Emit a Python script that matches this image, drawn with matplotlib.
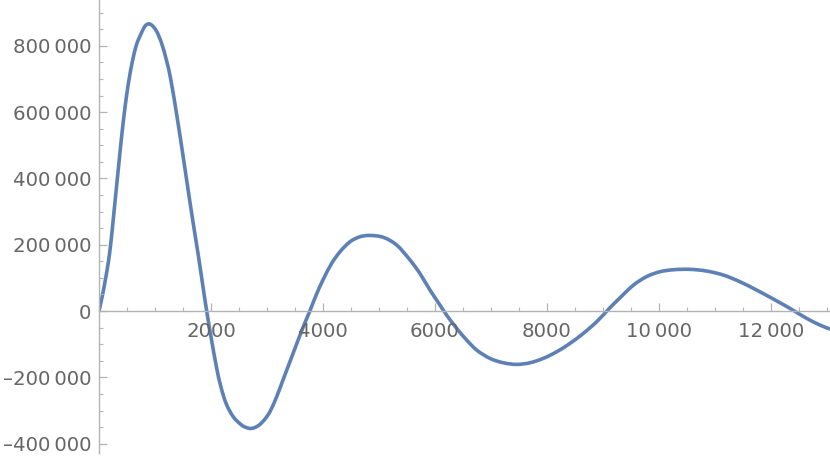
import matplotlib
matplotlib.use("Agg")
import matplotlib.pyplot as plt
from matplotlib.path import Path
from matplotlib.patches import PathPatch
from matplotlib.ticker import FixedLocator, MultipleLocator

# ---- data ----
x_values = [0, 62, 118, 168, 207, 239, 268, 298, 328, 358, 388, 420, 455, 494, 540,
            595, 668, 755, 820, 885, 950, 1030, 1119, 1208, 1280, 1399, 1494, 1583,
            1673, 1768, 1857, 1923, 2000, 2101, 2173, 2268, 2399, 2548, 2620, 2700,
            2780, 2863, 2960, 3054, 3173, 3292, 3411, 3530, 3649, 3765, 3887, 4006,
            4155, 4304, 4482, 4661, 4839, 5077, 5316, 5554, 5732, 5911, 6089, 6208,
            6387, 6566, 6744, 6982, 7220, 7458, 7696, 7934, 8173, 8411, 8649, 8887,
            9125, 9304, 9542, 9780, 10018, 10256, 10554, 10851, 11149, 11446, 11744,
            12042, 12339, 12637, 12875, 13054]
y_values = [0, 48000, 98600, 148700, 199100, 249500, 299600, 349900, 400300, 450400,
            500800, 551100, 601200, 651600, 701900, 752000, 802400, 837700, 858900,
            866000, 861000, 843000, 807000, 754000, 700000, 580000, 475700, 375000,
            274500, 174000, 73300, 0, -77500, -172000, -226000, -278000, -319000,
            -344000, -350500, -354000, -351400, -343200, -326500, -303000, -258000,
            -205000, -152000, -99000, -47000, 0, 52000, 96000, 143900, 178900, 209000,
            224100, 228000, 222300, 199100, 154000, 113000, 63300, 18100, -12100,
            -52200, -87500, -117600, -142700, -155900, -160800, -155900, -142700,
            -122800, -97400, -67300, -32200, 10000, 40000, 78000, 104000, 118600,
            124600, 125800, 120700, 108600, 88400, 63300, 36200, 8100, -22000,
            -42200, -54300]

x_ticks = [2000, 4000, 6000, 8000, 10000, 12000]
x_tick_labels = ["2000", "4000", "6000", "8000", "10\u2009000", "12\u2009000"]
y_ticks = [-400000, -200000, 0, 200000, 400000, 600000, 800000]
y_tick_labels = ["\u2013400\u2009000", "\u2013200\u2009000", "0", "200\u2009000",
                 "400\u2009000", "600\u2009000", "800\u2009000"]

# ---- figure ----
W, H = 830, 457
fig = plt.figure(figsize=(W / 100, H / 100), dpi=100)
ax = fig.add_axes([99 / W, 4 / H, 731 / W, 453 / H])

line_color = "#5E81B5"
axis_color = "#b3b3b3"
label_color = "#666666"


def smooth_path(xs, ys):
    """Cubic Hermite rendering of the read points as a Bezier path."""
    n = len(xs)
    slopes = []
    for i in range(n):
        if i == 0:
            m = (ys[1] - ys[0]) / (xs[1] - xs[0])
        elif i == n - 1:
            m = (ys[-1] - ys[-2]) / (xs[-1] - xs[-2])
        else:
            m = (ys[i + 1] - ys[i - 1]) / (xs[i + 1] - xs[i - 1])
        slopes.append(m)
    verts = [(xs[0], ys[0])]
    codes = [Path.MOVETO]
    for i in range(n - 1):
        h = xs[i + 1] - xs[i]
        verts.append((xs[i] + h / 3, ys[i] + slopes[i] * h / 3))
        verts.append((xs[i + 1] - h / 3, ys[i + 1] - slopes[i + 1] * h / 3))
        verts.append((xs[i + 1], ys[i + 1]))
        codes += [Path.CURVE4] * 3
    return Path(verts, codes)


curve = PathPatch(smooth_path(x_values, y_values), fill=False, edgecolor=line_color,
                  lw=2.6, joinstyle="round", capstyle="round", transform=ax.transData)
ax.add_patch(curve)

ax.set_xlim(0, 13054)
ax.set_ylim(-428000, 938000)

for s in ["top", "right"]:
    ax.spines[s].set_visible(False)
ax.spines["bottom"].set_position(("data", 0))
ax.spines["bottom"].set_color(axis_color)
ax.spines["left"].set_color(axis_color)
ax.spines["bottom"].set_linewidth(1.0)
ax.spines["left"].set_linewidth(1.0)

ax.xaxis.set_major_locator(FixedLocator(x_ticks))
ax.xaxis.set_minor_locator(MultipleLocator(500))
ax.set_xticklabels(x_tick_labels)
ax.yaxis.set_major_locator(FixedLocator(y_ticks))
ax.yaxis.set_minor_locator(MultipleLocator(50000))
ax.set_yticklabels(y_tick_labels)

for lab in ax.get_xticklabels() + ax.get_yticklabels():
    lab.set_fontfamily(["DejaVu Sans"])

ax.tick_params(axis="x", which="major", direction="in", length=5.5, width=0.9,
               color=axis_color, labelsize=14.2, labelcolor=label_color, pad=8)
ax.tick_params(axis="x", which="minor", direction="in", length=3.2, width=0.8,
               color=axis_color)
ax.tick_params(axis="y", which="major", direction="in", length=5.5, width=0.9,
               color=axis_color, labelsize=14.2, labelcolor=label_color, pad=5.5)
ax.tick_params(axis="y", which="minor", direction="in", length=3.2, width=0.8,
               color=axis_color)

ax.set_facecolor("none")
fig.patch.set_facecolor("white")
fig.savefig("out.png", dpi=100)
